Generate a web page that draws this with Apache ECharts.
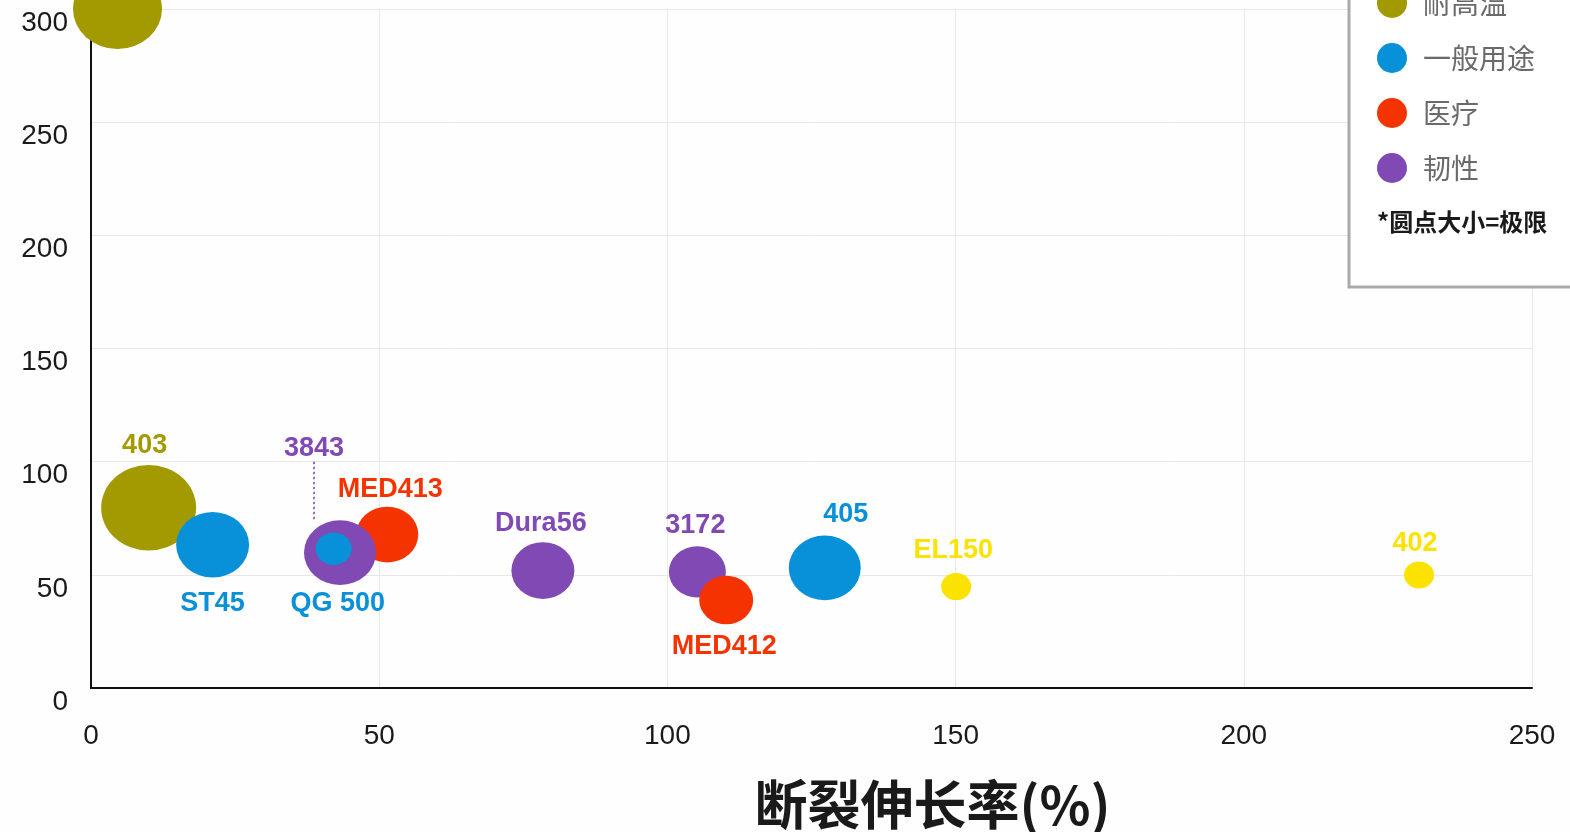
<!DOCTYPE html>
<html><head><meta charset="utf-8">
<script src="https://cdn.jsdelivr.net/npm/echarts@6/dist/echarts.min.js"></script>
<style>html,body{margin:0;padding:0;background:#fefefe}#c{width:1570px;height:832px}</style>
</head><body><div id="c"></div>
<script>
// ---- data ----
const names       = ['', '403', 'ST45', '3843', 'QG 500', 'MED413', 'Dura56', '3172', 'MED412', '405', 'EL150', '402'];
const categories  = ['耐高温', '耐高温', '一般用途', '韧性', '一般用途', '医疗', '韧性', '韧性', '医疗', '一般用途', '高弹性', '高弹性'];
const elongation  = [4.6, 10.0, 21.1, 43.2, 42.1, 51.4, 78.4, 105.2, 110.2, 127.3, 150.1, 230.4];
const strength    = [300, 79.6, 63.3, 59.8, 61.5, 67.8, 51.9, 51.3, 38.9, 53.1, 44.8, 49.9];
const ultimate    = [89, 95, 73, 72, 36, 62, 63, 57, 54, 72, 30, 30];
const legendNames = ['耐高温', '一般用途', '医疗', '韧性'];
const xTicks = [0, 50, 100, 150, 200, 250];
const yTicks = [0, 50, 100, 150, 200, 250, 300];
const xTitle = '断裂伸长率(%)';
const noteText = '*圆点大小=极限';

// ---- styles ----
const colors = { '耐高温': '#a29a00', '一般用途': '#0890d8', '医疗': '#f53300', '韧性': '#8049b3', '高弹性': '#fbe200' };
const drawOnTop = ['MED412'];
const labelCfg = {
  '403':    { position: 'top',    distance: 6,  offset: [-4, 0] },
  'ST45':   { position: 'bottom', distance: 12, offset: [0, 0] },
  '3843':   { position: 'top',    distance: 0,  offset: [-26, 0], leader: 58 },
  'QG 500': { position: 'bottom', distance: 25, offset: [4, 0] },
  'MED413': { position: 'top',    distance: 4,  offset: [3, 0] },
  'Dura56': { position: 'top',    distance: 5,  offset: [-2, 0] },
  '3172':   { position: 'top',    distance: 7,  offset: [-2, 0] },
  'MED412': { position: 'bottom', distance: 9,  offset: [-2, 0] },
  '405':    { position: 'top',    distance: 7,  offset: [21, 0] },
  'EL150':  { position: 'top',    distance: 9,  offset: [-3, 0] },
  '402':    { position: 'top',    distance: 5,  offset: [-4, 0] }
};

function item(i) {
  const n = names[i];
  const cfg = labelCfg[n];
  const d = { name: n, value: [elongation[i], strength[i], ultimate[i]] };
  if (!n || !cfg) {
    d.label = { show: false };
  } else {
    d.label = { show: true, position: cfg.position, distance: cfg.distance, offset: cfg.offset };
    if (cfg.leader) {
      d.label.formatter = '{b}\n{l|}';
      d.label.rich = {
        l: { width: 0.5, height: cfg.leader, borderColor: colors[categories[i]], borderWidth: 1.2, borderType: [2, 3] }
      };
    }
  }
  return d;
}

const groups = [
  { cat: '耐高温', top: false },
  { cat: '医疗', top: false },
  { cat: '韧性', top: false },
  { cat: '一般用途', top: false },
  { cat: '医疗', top: true },
  { cat: '高弹性', top: false }
];

const series = groups.map(g => {
  const idx = names.map((_, i) => i).filter(i => categories[i] === g.cat && (drawOnTop.includes(names[i]) === g.top));
  return {
    type: 'scatter',
    name: g.cat,
    data: idx.map(item),
    symbol: 'circle',
    symbolSize: v => [v[2], v[2] * 0.9],
    itemStyle: { color: colors[g.cat], opacity: 1 },
    label: {
      show: true, formatter: '{b}', color: colors[g.cat],
      fontFamily: 'Liberation Sans, Arial, sans-serif', fontWeight: 'bold', fontSize: 27
    },
    emphasis: { disabled: true }
  };
});

const chart = echarts.init(document.getElementById('c'), null, { renderer: 'canvas' });
chart.setOption({
  backgroundColor: '#fefefe',
  animation: false,
  grid: { left: 91, right: 38, top: 9, bottom: 144, containLabel: false, outerBoundsMode: 'none' },
  xAxis: {
    type: 'value', min: xTicks[0], max: xTicks[xTicks.length - 1], interval: 50,
    name: xTitle, nameLocation: 'middle', nameGap: 90,
    nameTextStyle: { fontFamily: 'Noto Sans CJK SC', fontWeight: 'bold', fontSize: 53, color: '#1a1a1a', padding: [0, 0, 0, 242] },
    axisLine: { show: true, lineStyle: { color: '#111', width: 2 } },
    axisTick: { show: false },
    axisLabel: { margin: 34, fontSize: 28, color: '#1a1a1a', fontFamily: 'Liberation Sans, Arial, sans-serif' },
    splitLine: { show: true, lineStyle: { color: '#e8e8e8', width: 1 } }
  },
  yAxis: {
    type: 'value', min: yTicks[0], max: yTicks[yTicks.length - 1], interval: 50,
    axisLine: { show: true, lineStyle: { color: '#111', width: 2 } },
    axisTick: { show: false },
    axisLabel: { margin: 23, fontSize: 28, color: '#1a1a1a', fontFamily: 'Liberation Sans, Arial, sans-serif', verticalAlign: 'top' },
    splitLine: { show: true, lineStyle: { color: '#e8e8e8', width: 1 } }
  },
  legend: {
    data: legendNames,
    orient: 'vertical',
    left: 1349, top: -32,
    padding: [20, 220, 104, 28],
    itemWidth: 30, itemHeight: 30, itemGap: 25,
    icon: 'circle',
    backgroundColor: '#ffffff',
    borderColor: '#a9a9a9', borderWidth: 3, borderRadius: 0,
    textStyle: { fontSize: 28, color: '#6a6a6a', fontFamily: 'Noto Sans CJK SC', padding: [0, 0, 0, 11] },
    selectedMode: false
  },
  graphic: [{
    type: 'text', left: 1377, top: 210, z: 100,
    style: { text: noteText, fontSize: 24, fontWeight: 'bold', fill: '#1a1a1a', fontFamily: 'Noto Sans CJK SC' }
  }],
  series: series
});
</script>
</body></html>
